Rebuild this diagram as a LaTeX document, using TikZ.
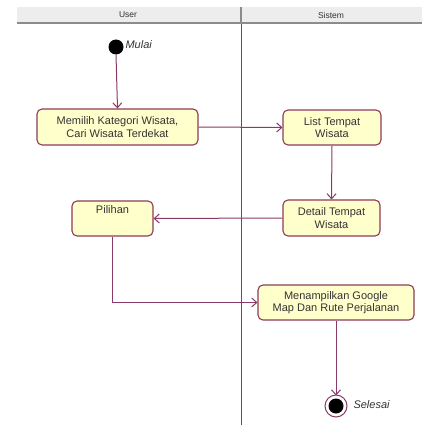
\documentclass[tikz,border=0pt]{standalone}
\usepackage{fontspec}
\setmainfont{Liberation Sans}
\usetikzlibrary{arrows.meta}
\definecolor{flow}{HTML}{8A3A68}
\definecolor{boxline}{HTML}{8E3B5A}
\definecolor{boxfill}{HTML}{FFFFCC}
\definecolor{hdrfill}{HTML}{EDEDED}
\definecolor{hdrline}{HTML}{8C8C8C}
\definecolor{txt}{HTML}{333333}
\tikzset{
  action/.style={draw=boxline, fill=boxfill, rounded corners=5pt, line width=1.1pt,
    text=txt, font=\fontsize{11}{12.5}\selectfont, align=center, inner sep=0pt},
  flowline/.style={draw=flow, line width=1pt},
  flowarrow/.style={flowline, -{Straight Barb[length=5pt,width=9pt]}},
  lanehead/.style={text=txt, font=\fontsize{8.5}{9}\selectfont},
  statelbl/.style={text=txt, font=\fontsize{11}{12}\selectfont\itshape, anchor=west}
}
\begin{document}
\begin{tikzpicture}[x=1pt,y=-1pt]
\useasboundingbox (0,0) rectangle (422,425);
\fill[white] (0,0) rectangle (422,425);

% swimlane header
\fill[hdrfill] (17,7) rectangle (422,22);
\draw[hdrline, line width=1.8pt] (17,23) -- (422,23);
\draw[hdrline, line width=1.2pt] (241,7) -- (241,23);
\node[lanehead] (hUser) at (128,15) {User};
\node[lanehead] (hSistem) at (331,15) {Sistem};
% lane divider
\draw[flow, line width=1pt] (241,24) -- (241,425);

% start and end states
\fill[black] (116,47) circle (7.5);
\coordinate (start) at (116,47);
\node[statelbl] (lblMulai) at (122,45) {Mulai};

\draw[flow, line width=1pt, fill=white] (336,406) circle (11);
\fill[black] (336,406) circle (7.5);
\coordinate (endc) at (336,406);
\node[statelbl] (lblSelesai) at (350,405) {Selesai};

% actions
\node[action, minimum width=161pt, minimum height=36pt] (pilihKat) at (117.5,127) {Memilih Kategori Wisata,\\Cari Wisata Terdekat};
\node[action, minimum width=98pt, minimum height=35pt] (listWis) at (332,127.5) {List Tempat\\Wisata};
\node[action, minimum width=97pt, minimum height=36pt] (detWis) at (331.5,218) {Detail Tempat\\Wisata};
\node[action, minimum width=81pt, minimum height=35pt] (pilihan) at (112.5,218.5) {};
\node[text=txt, font=\fontsize{11}{12.5}\selectfont] (pilihanTxt) at (112.5,210) {Pilihan};
\node[action, minimum width=156pt, minimum height=35pt] (tampil) at (336,302.5) {Menampilkan Google\\Map Dan Rute Perjalanan};

% control flow
\draw[flowarrow] (start) ++(0,7.5) -- (pilihKat.north);
\draw[flowarrow] (pilihKat.east) -- (listWis.west);
\draw[flowarrow] (listWis.south) -- (detWis.north);
\draw[flowarrow] (detWis.west) -- (pilihan.east);
\draw[flowarrow] (pilihan.south) |- (tampil.west);
\draw[flowarrow] (tampil.south) -- ++(0,75) coordinate (endTop);
\end{tikzpicture}
\end{document}
